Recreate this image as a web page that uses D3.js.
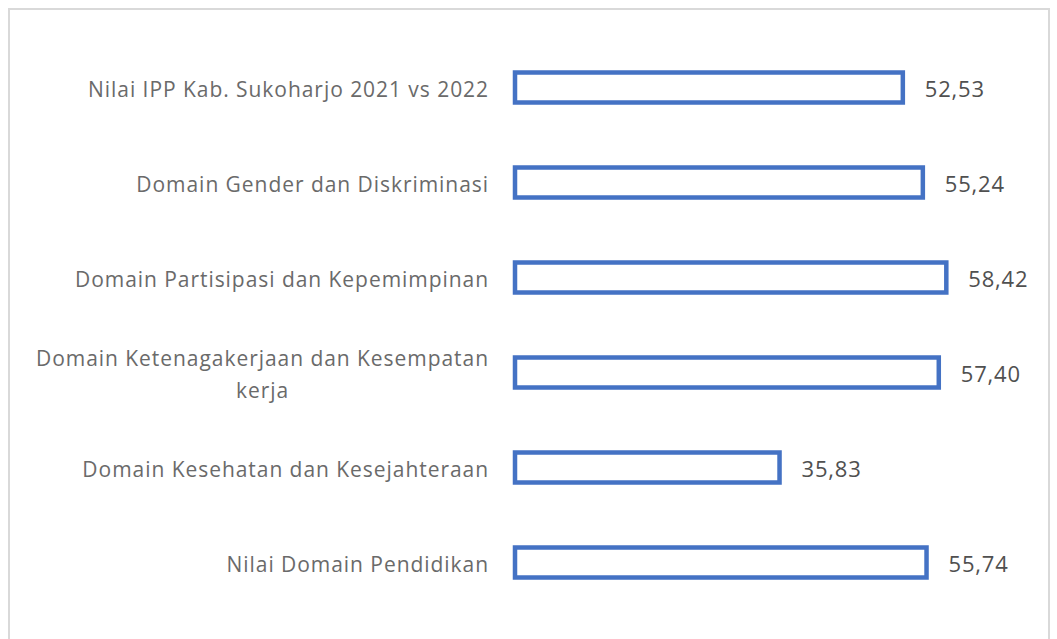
<!DOCTYPE html>
<html>
<head>
<meta charset="utf-8">
<script src="https://cdn.jsdelivr.net/npm/d3@7"></script>
<style>
  body { margin: 0; background: #fff; }
</style>
</head>
<body>
<script>
// categories (top to bottom) and values
var categories = [
    "Nilai IPP Kab. Sukoharjo 2021 vs 2022",
    "Domain Gender dan Diskriminasi",
    "Domain Partisipasi dan Kepemimpinan",
    "Domain Ketenagakerjaan dan Kesempatan kerja",
    "Domain Kesehatan dan Kesejahteraan",
    "Nilai Domain Pendidikan"
];
var values = [52.53, 55.24, 58.42, 57.40, 35.83, 55.74];
var valueLabels = ["52,53", "55,24", "58,42", "57,40", "35,83", "55,74"];
// label lines (wrapped like the original)
var labelLines = [
    ["Nilai IPP Kab. Sukoharjo 2021 vs 2022"],
    ["Domain Gender dan Diskriminasi"],
    ["Domain Partisipasi dan Kepemimpinan"],
    ["Domain Ketenagakerjaan dan Kesempatan", "kerja"],
    ["Domain Kesehatan dan Kesejahteraan"],
    ["Nilai Domain Pendidikan"]
];

const canvWidth = 1057, canvHeight = 639;
const margin = {top: 40, left: 515};

const svg = d3.select("body").append("svg")
    .attr("width", canvWidth)
    .attr("height", canvHeight);

// chart frame
svg.append("rect")
    .attr("x", 9)
    .attr("y", 9)
    .attr("width", 1040)
    .attr("height", 650)
    .attr("fill", "none")
    .attr("stroke", "#d9d9d9")
    .attr("stroke-width", 2);

var xScale = d3.scaleLinear()
    .domain([0, 10])
    .range([0, 73.83]);

var yScale = d3.scaleBand()
    .domain(categories)
    .range([margin.top, margin.top + 95 * 6])
    .paddingInner(65 / 95)
    .paddingOuter(65 / 95 / 2);

const g = svg.append("g")
    .attr("transform", "translate(" + margin.left + ",0)");

// bars
g.selectAll("rect.bar")
    .data(categories)
    .enter()
    .append("rect")
    .attr("class", "bar")
    .attr("x", 0)
    .attr("y", d => yScale(d))
    .attr("width", (d, i) => xScale(values[i]))
    .attr("height", yScale.bandwidth())
    .attr("fill", "#fff")
    .attr("stroke", "#4472c4")
    .attr("stroke-width", 4.5);

// value labels
g.selectAll("text.value")
    .data(categories)
    .enter()
    .append("text")
    .attr("class", "value")
    .attr("x", (d, i) => xScale(values[i]) + 22)
    .attr("y", d => yScale(d) + yScale.bandwidth() / 2 + 2)
    .attr("dy", "0.35em")
    .attr("font-family", "'Open Sans', sans-serif")
    .attr("font-size", "22px")
    .attr("letter-spacing", "0.8px")
    .attr("fill", "#505050")
    .text((d, i) => valueLabels[i]);

// category labels, right aligned, multi-line centred
var labels = svg.selectAll("text.cat")
    .data(categories)
    .enter()
    .append("text")
    .attr("class", "cat")
    .attr("font-family", "'Open Sans', sans-serif")
    .attr("font-size", "21px")
    .attr("letter-spacing", "0.95px")
    .attr("fill", "#6a6a6a")
    .attr("text-anchor", "middle");

labels.each(function (d, i) {
    var t = d3.select(this);
    var lines = labelLines[i];
    var cy = yScale(d) + yScale.bandwidth() / 2 + 2;
    var y0 = cy - (lines.length - 1) * 16;
    lines.forEach(function (l, j) {
        t.append("tspan")
            .attr("x", 0)
            .attr("y", y0 + j * 32)
            .attr("dy", "0.35em")
            .text(l);
    });
    // right align the block at x = 489
    var w = this.getBBox().width;
    t.selectAll("tspan").attr("x", 489 - w / 2);
});
</script>
</body>
</html>
